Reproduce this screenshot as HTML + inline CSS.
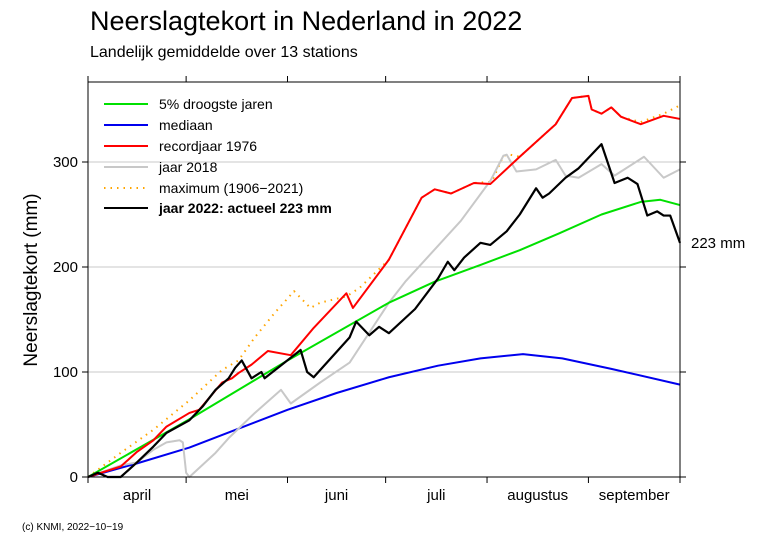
<!DOCTYPE html>
<html><head><meta charset="utf-8"><style>
body{margin:0;background:#fff;}
svg{display:block;font-family:"Liberation Sans",sans-serif;}
</style></head><body>
<svg id="c" width="766" height="541">
<text x="90" y="30" font-size="27">Neerslagtekort in Nederland in 2022</text>
<text x="90" y="57" font-size="16">Landelijk gemiddelde over 13 stations</text>
<text transform="translate(37,280) rotate(-90)" text-anchor="middle" font-size="19">Neerslagtekort (mm)</text>
<text x="22" y="530" font-size="10">(c) KNMI, 2022−10−19</text>
<g id="grid"></g>
<g id="series"></g>
<g id="axes"></g>
<g id="legend"></g>
</svg>
<script>
const yTicks=[0,100,200,300];
const monthNames=["april","mei","juni","juli","augustus","september"];
const monthStarts=[0,30,61,91,122,153,181];
const greenDays=[0,31,61,92,106,120,132,144,157,169,175,181];
const greenVals=[0,55,111,166,186,202,216,232,250,262,264,259];
const blueDays=[0,15,31,46,61,76,92,107,120,133,145,160,181];
const blueVals=[0,13,28,46,64,80,95,106,113,117,113,103,88];
const redDays=[0,10,15,20,24,31,34,41,44,46,50,55,62,69,79,81,92,102,106,111,118,123,132,143,148,153,154,157,160,163,169,176,181];
const redVals=[0,10,24,35,48,61,64,90,94,99,107,120,116,142,175,161,207,266,274,270,280,279,305,336,361,363,350,346,352,343,336,344,341];
const grayDays=[0,10,15,20,24,28,29,30,31,39,43,51,59,62,71,80,92,97,114,123,127,128,131,137,143,146,150,157,161,170,176,181];
const grayVals=[0,11,14,26,33,35,33,4,0,23,37,61,83,70,90,109,166,186,244,282,306,307,291,293,302,287,285,298,287,305,285,293];
const maxDays=[0,10,20,31,41,46,51,57,63,68,71,79,83,92,102,106,111,118,123,124,127,129,132,143,148,153,154,157,160,163,169,176,181];
const maxVals=[0,23,45,73,102,111,133,156,177,161,166,172,180,207,266,274,270,280,281,285,306,307,305,336,361,363,350,346,352,343,338,346,354];
const blackDays=[0,3,6,10,15,20,24,31,35,39,43,45,47,50,53,54,65,67,69,80,82,86,89,92,100,107,110,112,115,120,123,128,132,137,139,141,146,150,157,161,165,168,171,174,176,178,181];
const blackVals=[0,4,0,0,14,29,42,54,67,83,94,104,111,94,100,94,121,100,95,133,148,135,143,137,160,189,205,197,209,223,221,234,250,275,266,270,285,294,317,280,285,279,249,253,249,249,223];
const legendLabels=["5% droogste jaren","mediaan","recordjaar 1976","jaar 2018","maximum (1906−2021)","jaar 2022: actueel 223 mm"];
const finalLabel="223 mm";

const NS="http://www.w3.org/2000/svg";
const X0=88,X1=680,Y0=477,Y1=82;
const xs=d=>X0+(d/181)*(X1-X0);
const ys=v=>Y0-v*1.05;
function mk(tag,attrs,parent){const e=document.createElementNS(NS,tag);for(const k in attrs)e.setAttribute(k,attrs[k]);parent.appendChild(e);return e;}
const grid=document.getElementById('grid'),ser=document.getElementById('series'),ax=document.getElementById('axes'),leg=document.getElementById('legend');
yTicks.forEach(v=>{
  if(v>0){const g=mk('line',{x1:X0,x2:X1,y1:ys(v),y2:ys(v),stroke:'#c8c8c8','stroke-width':1},grid);
  
  }
  const t=mk('line',{x1:X0-6,x2:X0,y1:ys(v),y2:ys(v),stroke:'#000'},ax);
  
  
  const t2=mk('line',{x1:X1,x2:X1+6,y1:ys(v),y2:ys(v),stroke:'#000'},ax);
  
  
  const l=mk('text',{x:X0-10,y:ys(v)+5,'text-anchor':'end','font-size':15},ax);l.textContent=v;
  
  
});
const fr=mk('rect',{x:X0,y:Y1,width:X1-X0,height:Y0-Y1,fill:'none',stroke:'#000','stroke-width':1},ax);


monthStarts.forEach((d,i)=>{
  const t=mk('line',{x1:xs(d),x2:xs(d),y1:Y0,y2:Y0+6,stroke:'#000'},ax);
  
  
  const t2=mk('line',{x1:xs(d),x2:xs(d),y1:Y1-6,y2:Y1,stroke:'#000'},ax);
  
  
  if(i<monthNames.length){
    const l=mk('text',{x:(xs(d)+xs(monthStarts[i+1]))/2,y:500,'text-anchor':'middle','font-size':15},ax);
    l.textContent=monthNames[i];
    
    
  }
});
function line(days,vals,color,w,dash,name){
  const p=mk('polyline',{points:days.map((d,i)=>xs(d)+','+ys(vals[i])).join(' '),fill:'none',stroke:color,'stroke-width':w,'stroke-linejoin':'round'},ser);
  if(dash)p.setAttribute('stroke-dasharray',dash);
  
  
}
line(maxDays,maxVals,'#ffa500',2,'1.5 5','series-maximum');
line(blueDays,blueVals,'#0000ee',2,null,'series-median');
line(grayDays,grayVals,'#c8c8c8',2,null,'series-2018');
line(greenDays,greenVals,'#00e000',2,null,'series-5pct-driest');
line(redDays,redVals,'#ff0000',2,null,'series-1976');
line(blackDays,blackVals,'#000',2.2,null,'series-2022');
const fl=mk('text',{x:691,y:ys(blackVals[blackVals.length-1])+5,'font-size':15},ax);
fl.textContent=finalLabel;


const legColors=['#00e000','#0000ee','#ff0000','#c8c8c8','#ffa500','#000'];
const legY=[104,125,146,167,188,208];
legendLabels.forEach((s,i)=>{
  const l=mk('line',{x1:104,x2:148,y1:legY[i],y2:legY[i],stroke:legColors[i],'stroke-width':2},leg);
  if(i===4)l.setAttribute('stroke-dasharray','1.5 5');
  
  
  const t=mk('text',{x:159,y:legY[i]+5,'font-size':14},leg);
  if(i===5)t.setAttribute('font-weight','bold');
  t.textContent=s;
  
  
});
</script>
</body></html>
